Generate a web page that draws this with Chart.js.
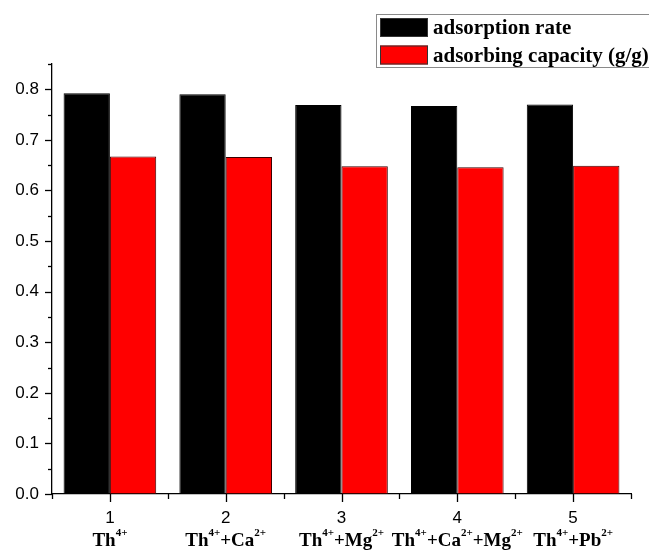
<!DOCTYPE html>
<html>
<head>
<meta charset="utf-8">
<script src="https://cdn.jsdelivr.net/npm/chart.js@4"></script>
<style>
  html, body { margin: 0; padding: 0; background: #fff; }
  #wrap { width: 649px; height: 550px; }
</style>
</head>
<body>
<div id="wrap"><canvas id="ionChart"></canvas></div>
<script>
// data
const categories = ['1', '2', '3', '4', '5'];
const ionLabels = ['Th^4+', 'Th^4++Ca^2+', 'Th^4++Mg^2+', 'Th^4++Ca^2++Mg^2+', 'Th^4++Pb^2+'];
const rateValues = [0.792, 0.790, 0.769, 0.767, 0.770];
const capacityValues = [0.667, 0.666, 0.648, 0.646, 0.649];
const yTicks = [0, 0.1, 0.2, 0.3, 0.4, 0.5, 0.6, 0.7, 0.8];
const yMinorTicks = [0.05, 0.15, 0.25, 0.35, 0.45, 0.55, 0.65, 0.75, 0.85];

// split "Th^4++Ca^2+" into [text, sup] pieces
function parseIon(s) {
  const parts = [];
  const re = /([A-Za-z+]+?)\^(\d\+)/g;
  let m;
  while ((m = re.exec(s)) !== null) {
    parts.push({ t: m[1], sup: false });
    parts.push({ t: m[2], sup: true });
  }
  return parts;
}

const axisDecor = {
  id: 'axisDecor',
  afterDraw(chart) {
    const ctx = chart.ctx;
    const x = chart.scales.x;
    const y = chart.scales.y;
    ctx.save();
    ctx.strokeStyle = '#000';
    ctx.lineWidth = 1.3;
    // y ticks (outward)
    yTicks.forEach(v => {
      const py = Math.round(y.getPixelForValue(v)) + 0.5;
      ctx.beginPath(); ctx.moveTo(x.left - 7, py); ctx.lineTo(x.left, py); ctx.stroke();
    });
    yMinorTicks.forEach(v => {
      const py = Math.round(y.getPixelForValue(v)) + 0.5;
      ctx.beginPath(); ctx.moveTo(x.left - 4, py); ctx.lineTo(x.left, py); ctx.stroke();
    });
    // x ticks
    const cw = (x.right - x.left) / categories.length;
    categories.forEach((c, i) => {
      const px = Math.round(x.getPixelForValue(i)) + 0.5;
      ctx.beginPath(); ctx.moveTo(px, y.bottom); ctx.lineTo(px, y.bottom + 8); ctx.stroke();
    });
    for (let k = 0; k <= categories.length; k++) {
      const px = Math.round(x.left + k * cw) + 0.5;
      ctx.beginPath(); ctx.moveTo(px, y.bottom); ctx.lineTo(px, y.bottom + 5); ctx.stroke();
    }
    // x labels: number + ion formula
    ctx.fillStyle = '#000';
    ctx.textAlign = 'center';
    ctx.textBaseline = 'middle';
    ctx.font = '17px "Liberation Sans", Arial, sans-serif';
    categories.forEach((c, i) => {
      ctx.fillText(c, x.getPixelForValue(i), y.bottom + 24);
    });
    const big = 'bold 19px "Liberation Serif", "Times New Roman", serif';
    const small = 'bold 11px "Liberation Serif", "Times New Roman", serif';
    ctx.textAlign = 'left';
    ctx.textBaseline = 'alphabetic';
    ionLabels.forEach((lab, i) => {
      const parts = parseIon(lab);
      let w = 0;
      parts.forEach(p => { ctx.font = p.sup ? small : big; p.w = ctx.measureText(p.t).width; w += p.w; });
      let cx = x.getPixelForValue(i) - w / 2;
      const base = y.bottom + 52;
      parts.forEach(p => {
        ctx.font = p.sup ? small : big;
        ctx.fillText(p.t, cx, p.sup ? base - 10 : base);
        cx += p.w;
      });
    });
    // legend box
    const ds = chart.data.datasets;
    ctx.strokeStyle = '#8a8a8a';
    ctx.lineWidth = 1;
    ctx.strokeRect(376.5, 14.5, 300, 53);
    ctx.font = 'bold 21px "Liberation Serif", "Times New Roman", serif';
    ds.forEach((d, i) => {
      const top = 18 + i * 27.5;
      ctx.fillStyle = d.backgroundColor;
      ctx.fillRect(380, top, 48, 19);
      ctx.strokeStyle = '#333';
      ctx.strokeRect(380.5, top + 0.5, 47, 18);
      ctx.fillStyle = '#000';
      ctx.fillText(d.label, 433, top + 16);
    });
    ctx.restore();
  }
};

new Chart(document.getElementById('ionChart').getContext('2d'), {
  type: 'bar',
  data: {
    labels: categories,
    datasets: [{
      label: 'adsorption rate',
      data: rateValues,
      backgroundColor: '#000000',
      borderColor: '#000000',
      borderWidth: 1
    }, {
      label: 'adsorbing capacity (g/g)',
      data: capacityValues,
      backgroundColor: '#ff0000',
      borderColor: '#3a0000',
      borderWidth: 1
    }]
  },
  options: {
    responsive: true,
    maintainAspectRatio: false,
    animation: false,
    layout: { padding: { top: 64, right: 18, left: 0, bottom: 0 } },
    plugins: { legend: { display: false }, tooltip: { enabled: false } },
    datasets: { bar: { categoryPercentage: 0.8, barPercentage: 1.0, borderSkipped: false } },
    scales: {
      x: {
        grid: { display: false },
        border: { display: true, color: '#000', width: 1.3 },
        ticks: { display: false },
        afterFit(scale) { scale.height = 56; }
      },
      y: {
        min: 0,
        max: 0.85,
        grid: { display: false },
        border: { display: true, color: '#000', width: 1.3 },
        afterBuildTicks(scale) { scale.ticks = yTicks.map(v => ({ value: v })); },
        ticks: {
          padding: 5,
          color: '#000',
          font: { family: '"Liberation Sans", Arial, sans-serif', size: 17 },
          callback: v => Number(v).toFixed(1)
        },
        afterFit(scale) { scale.width = 52; }
      }
    }
  },
  plugins: [axisDecor]
});
</script>
</body>
</html>
